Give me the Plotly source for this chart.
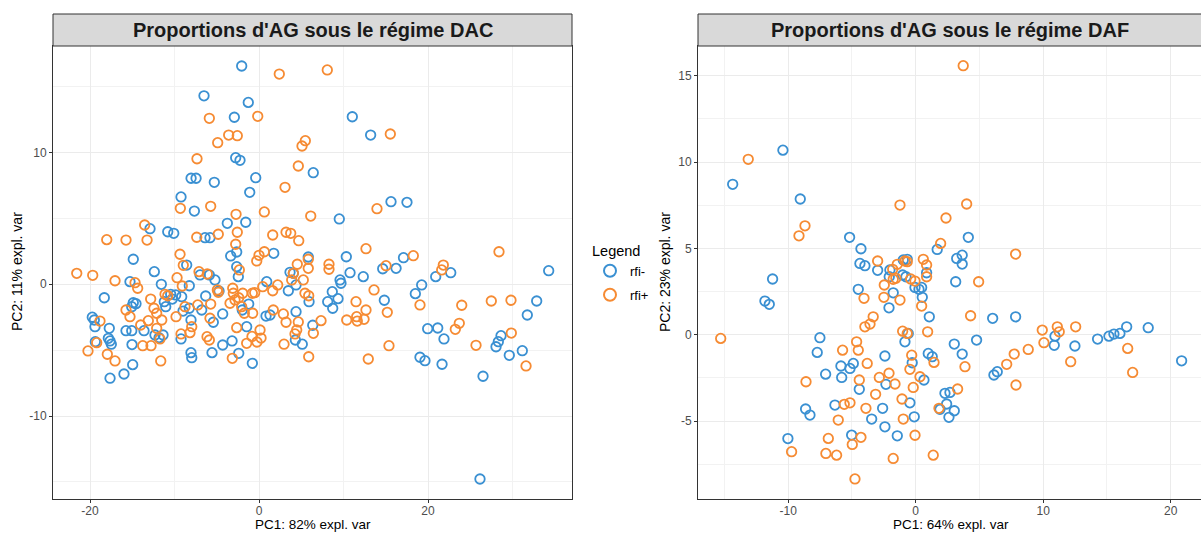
import plotly.graph_objects as go

# ---- PCA scores, DAC regime ----
dac_neg_pc1 = [-2.05, -6.51, -1.27, -2.92, -2.76, -2.25, -8.04, -7.45, -5.29, -0.39, -1.10, -9.23, -7.65, -3.75,
               -1.57, -12.90, -10.80, -10.09, -6.39, -5.80, -3.35, -2.64, 1.74, -14.88, -8.56, -12.39, -2.64, 3.67,
               4.06, 11.04, 13.21, 6.42, 15.62, 17.51, 9.50, 10.33, 17.10, 16.22, 14.64, 10.77, 5.83, 34.28, 20.91,
               22.69, 12.34, 9.59, 3.47, 4.38, 9.70, 8.67, 8.13, 9.35, 8.72, 5.92, 4.38, 6.36, 4.30, 5.12, 14.83,
               19.25, 18.50, 19.96, 21.15, 21.89, 19.05, 19.64, 21.66, 32.86, 31.75, 28.64, 28.32, 28.05, 31.16,
               29.62, 26.51, 26.15, -15.27, -11.56, -18.31, -8.25, -6.98, -5.88, -5.21, -10.45, -9.86, -9.15, -11.21,
               -11.04, -6.31, -8.25, -8.99, -14.88, -14.56, -15.06, -19.73, -19.49, -19.41, -17.72, -17.83, -17.63,
               -17.48, -19.37, -15.74, -15.06, -13.61, -15.03, -12.31, -11.83, -11.36, -9.23, -8.05, -5.41, -4.30,
               -3.19, -4.30, -5.56, -2.40, -8.05, -7.96, -14.95, -15.98, -17.63, -0.79, -1.46, -1.22, -1.98, 0.83,
               1.30, 0.91, -2.45, -6.78, -10.26, -4.73]
dac_neg_pc2 = [16.57, 14.31, 13.81, 12.68, 9.61, 9.41, 8.05, 8.05, 7.74, 8.09, 6.98, 6.63, 5.56, 4.63,
               4.71, 4.22, 3.99, 3.87, 3.54, 3.54, 2.15, 2.45, 2.35, 1.90, 1.46, 0.96, 1.34, 0.91,
               0.83, 12.72, 11.33, 8.47, 6.27, 6.22, 4.96, 2.09, 2.02, 1.21, 1.18, 0.88, 2.07, 1.03, 0.58,
               0.88, 0.58, 0.33, -0.49, -0.05, 0.08, -0.56, -1.32, -1.09, -1.82, -1.32, -2.08, -3.11, -4.23, -4.55, -1.21,
               -0.05, -0.71, -3.37, -3.32, -4.15, -5.54, -5.80, -6.07, -1.27, -2.33, -3.90, -4.36, -4.74, -5.04,
               -5.39, -6.98, -14.78, 0.20, 0.00, -1.02, -0.11, 0.71, 0.71, 0.33, -0.76, -0.81, -0.94, -1.32,
               -1.70, -0.89, -1.82, -2.03, -1.40, -1.47, -1.70, -2.50, -2.71, -3.22, -3.34, -4.10, -4.30,
               -4.55, -4.36, -3.52, -3.52, -3.52, -4.58, -3.85, -4.05, -3.85, -4.15, -2.71, -2.88, -2.25,
               -4.30, -4.61, -5.19, -5.24, -5.19, -5.57, -6.10, -6.81, -7.13, -6.00, -3.22, -1.50, -1.95, -2.41,
               -2.33, 0.20, 0.58, -1.95, -1.12, -0.51]

dac_pos_pc1 = [2.40, 8.08, -5.88, -0.15, -3.59, -2.57, -4.89, -7.34, 4.65, 3.08, -9.31, -5.72, -2.72, 0.63,
               -13.53, -2.57, -4.82, -7.37, 1.62, 3.20, 3.75, -18.02, -15.74, -13.25, -2.76, -9.35, 0.00, 0.63,
               -0.27, -8.96, -21.57, -19.68, -7.10, -6.12, -2.33, 4.53, 4.06, 15.54, 5.48, 5.09, 6.12, 13.96,
               4.70, 12.66, 18.26, 28.40, 5.83, 8.28, 8.28, 5.83, 15.03, 21.81, 21.62, 3.87, 5.24, 5.44, 5.88,
               13.61, 11.48, 12.66, 11.56, 11.63, 12.43, 10.38, 7.34, 15.18, 2.88, 3.20, 4.65, 4.26, 6.43, 2.96,
               5.88, 12.93, 15.38, 19.05, 23.99, 23.70, 23.23, 25.68, 27.49, 29.82, 29.86, 31.60, -17.04, -14.67,
               -14.36, -11.12, -10.80, -12.82, -9.70, -9.08, -4.93, -4.82, -3.11, -3.04, -3.43, -2.84, -2.40,
               -1.93, -0.79, -0.51, 0.44, 1.62, 2.21, -7.25, -5.72, -5.80, -9.82, -12.43, -12.11, -11.51, -12.11,
               -15.74, -15.27, -18.82, -13.10, -14.00, -7.96, -9.23, -6.15, -5.88, -2.64, -1.74, -0.75, 0.12,
               -0.83, -0.24, -1.46, 0.24, 1.69, 4.46, -20.24, -19.21, -17.95, -17.04, -13.76, -12.78, -11.72,
               -11.63, -3.16, -2.05, -8.76, -8.17]
dac_pos_pc2 = [15.96, 16.27, 12.60, 12.75, 11.33, 11.28, 10.75, 9.53, 8.98, 7.36, 5.77, 5.92, 5.31, 5.49,
               4.50, 3.95, 3.80, 3.57, 3.74, 3.95, 3.87, 3.39, 3.36, 3.36, 3.04, 2.28, 2.20, 2.47,
               1.77, 1.44, 0.83, 0.68, 0.96, 0.78, 1.09, 1.52, 0.83, 11.41, 10.90, 10.50, 5.18, 5.74,
               3.31, 2.70, 2.17, 2.47, 1.90, 1.52, 1.14, 1.21, 1.41, 1.46, 1.09, 0.33, 0.33, -0.68, -0.87,
               -0.43, -1.32, -1.95, -2.46, -2.79, -2.66, -2.71, -2.76, -2.13, -2.25, -2.88, -2.86, -3.77, -3.72, -4.55,
               -5.50, -5.67, -4.66, -1.57, -1.59, -2.96, -3.42, -4.63, -1.27, -1.21, -3.70, -6.20, 0.27, 0.12,
               -0.30, -0.76, -0.87, -1.12, 0.50, -0.13, -0.43, -0.61, -0.30, -0.68, -1.44, -1.19, -1.02,
               -0.68, -0.68, -0.64, -0.18, -0.49, -0.05, -1.57, -1.50, -2.58, -2.46, -1.82, -2.20, -2.71, -3.34,
               -1.95, -2.46, -2.79, -2.76, -3.09, -3.22, -3.77, -3.98, -4.23, -3.29, -2.20, -2.20, -3.47,
               -3.96, -4.38, -4.48, -4.08, -1.95, -3.47, -5.06, -4.43, -5.31, -5.82, -4.66, -4.66, -4.15,
               -5.82, -5.62, -1.70, -1.70, -3.67]

# ---- PCA scores, DAF regime ----
daf_neg_pc1 = [-14.35, -10.41, -9.05, -5.18, -4.29, -4.37, -3.98, -2.98, -11.22, -11.82, -11.48, -0.97, -0.66,
               0.86, 1.69, 4.13, 3.22, 3.65, 3.65, 3.14, -2.02, -2.07, -1.02, -0.76, -0.05, 0.26, 0.47, 0.52,
               -1.76, -4.50, -2.09, 1.07, 6.04, 7.84, -0.84, -0.58, -7.51, -7.72, 3.03, 4.78, 3.65, 6.14, 6.40,
               -2.41, -0.27, 0.99, 1.30, -4.89, -5.15, -5.86, -5.80, -7.06, -4.42, -2.33, 0.65, -0.45, 2.30,
               2.69, 2.43, 3.03, 1.91, 2.61, -6.33, -8.63, -8.29, -2.59, -3.45, -2.41, -0.11, -5.02, -1.44,
               -10.02, 10.93, 10.87, 12.49, 14.27, 15.16, 15.55, 16.02, 16.55, 18.24, 20.86]
daf_neg_pc2 = [8.71, 10.69, 7.86, 5.64, 4.98, 4.13, 4.00, 3.73, 3.23, 1.95, 1.76, 4.33, 4.37,
               3.59, 4.94, 5.64, 4.42, 4.61, 4.09, 3.07, 3.75, 3.36, 3.46, 3.36, 2.74, 2.63, 2.74, 2.17,
               2.43, 2.63, 1.56, 1.04, 0.95, 1.04, -0.41, 0.08, -0.17, -1.02, -0.54, -0.31, -1.12, -2.33, -2.14,
               -1.23, -1.62, -1.08, -1.27, -1.66, -1.95, -1.81, -2.47, -2.28, -3.16, -2.87, -2.62, -3.94, -3.39,
               -3.34, -4.01, -4.40, -4.32, -4.78, -4.07, -4.30, -4.65, -4.26, -4.88, -5.33, -4.75, -5.81, -5.85,
               -6.01, -0.08, -0.61, -0.65, -0.25, -0.08, 0.04, 0.08, 0.46, 0.41, -1.51]

daf_pos_pc1 = [3.73, -13.13, -1.23, 4.00, 2.38, -9.15, -8.68, 1.96, 7.84, -2.98, -0.84, -0.66, -1.44, -1.80,
               0.60, 0.86, 0.86, 4.94, -1.76, -1.55, -0.39, -0.05, -2.46, -2.49, -1.23, -4.05, 0.47, 4.31,
               -3.33, -3.58, -3.98, -1.02, -0.66, 0.94, -15.29, -4.63, -4.50, -5.73, 3.87, -0.31, -0.45, 1.44,
               -3.80, -8.60, -4.42, -2.85, -2.09, -1.62, 0.34, -0.19, -3.14, -1.07, 3.29, 1.83, -5.60, -5.15,
               -3.90, -6.07, -0.97, -4.29, -4.97, -0.05, -6.85, -7.04, -6.20, -9.73, -1.76, 1.38, -4.76, 7.14,
               7.73, 8.83, 7.87, 9.93, 10.06, 11.11, 11.26, 12.55, 12.16, 16.63, 17.02]
daf_pos_pc2 = [15.58, 10.16, 7.51, 7.57, 6.76, 5.73, 6.31, 5.29, 4.67, 4.27, 4.27, 4.23, 4.08, 3.79,
               4.37, 4.04, 3.36, 3.07, 3.21, 3.27, 3.23, 3.11, 2.88, 2.17, 2.01, 2.11, 1.66, 1.10,
               1.04, 0.62, 0.46, 0.21, 0.08, 0.17, -0.21, -0.41, -0.89, -0.89, -1.85, -1.18, -2.00, -1.60,
               -1.66, -2.72, -2.62, -2.47, -2.23, -2.85, -2.43, -3.05, -3.45, -3.72, -3.14, -4.26, -4.03, -3.94,
               -4.26, -4.94, -4.88, -5.94, -6.35, -5.82, -6.00, -6.87, -6.97, -6.77, -7.16, -6.97, -8.35, -1.71,
               -1.12, -0.85, -2.91, 0.27, -0.46, 0.46, 0.17, 0.46, -1.56, -0.79, -2.18]

groups = ["rfi-", "rfi+"]
group_colors = {"rfi-": "#3A90D2", "rfi+": "#F68B33"}

panel_titles = ["Proportions d'AG sous le régime DAC", "Proportions d'AG sous le régime DAF"]
x_titles = ["PC1: 82% expl. var", "PC1: 64% expl. var"]
y_titles = ["PC2: 11% expl. var", "PC2: 23% expl. var"]

dac_x_ticks = [-20, 0, 20]
dac_y_ticks = [-10, 0, 10]
daf_x_ticks = [-10, 0, 10, 20]
daf_y_ticks = [-5, 0, 5, 10, 15]

W, H = 1201, 533
FONT = "Liberation Sans, Arial, Helvetica, sans-serif"


def px_x(p):
    return p / W


def px_y(p):
    return 1 - p / H


fig = go.Figure()

panels = [
    ("x", "y", {"rfi-": (dac_neg_pc1, dac_neg_pc2), "rfi+": (dac_pos_pc1, dac_pos_pc2)}, True),
    ("x2", "y2", {"rfi-": (daf_neg_pc1, daf_neg_pc2), "rfi+": (daf_pos_pc1, daf_pos_pc2)}, False),
]
for xa, ya, data, show in panels:
    for g in groups:
        xs, ys = data[g]
        fig.add_trace(go.Scatter(
            x=xs, y=ys, mode="markers", name=g, legendgroup=g, showlegend=show,
            xaxis=xa, yaxis=ya,
            marker=dict(symbol="circle-open", size=9.5, color=group_colors[g],
                        line=dict(width=1.8, color=group_colors[g])),
        ))


def tick_text(vals):
    # plain hyphen-minus for negative labels
    return [str(v) for v in vals]


axis_common = dict(
    showgrid=True, gridcolor="#EBEBEB", gridwidth=1.1, zeroline=False,
    showline=True, linecolor="#333333", linewidth=1,
    ticks="outside", ticklen=3, tickwidth=1, tickcolor="#333333",
    tickfont=dict(family=FONT, size=12, color="#4D4D4D"),
    tickmode="array",
)


def minor(vals):
    return dict(tickmode="array", tickvals=vals, showgrid=True, gridcolor="#F2F2F2", gridwidth=0.7, ticks="")


ydom = [px_y(499), px_y(46)]
fig.update_layout(
    width=W, height=H,
    margin=dict(l=0, r=0, t=0, b=0),
    paper_bgcolor="white", plot_bgcolor="white",
    font=dict(family=FONT, color="#000000"),
    xaxis=dict(axis_common, domain=[px_x(53), px_x(572)], range=[-24.38, 37.04], anchor="y", mirror=True,
               ticklabelstandoff=-2,
               tickvals=dac_x_ticks, ticktext=tick_text(dac_x_ticks), minor=minor([-10, 10, 30])),
    yaxis=dict(axis_common, domain=ydom, range=[-16.30, 18.09], anchor="x", mirror=True,
               tickvals=dac_y_ticks, ticktext=tick_text(dac_y_ticks), minor=minor([-15, -5, 5, 15])),
    xaxis2=dict(axis_common, domain=[px_x(698), 1.0], range=[-17.07, 22.38], anchor="y2", mirror=True,
                ticklabelstandoff=-2,
                tickvals=daf_x_ticks, ticktext=tick_text(daf_x_ticks), minor=minor([-15, -5, 5, 15])),
    yaxis2=dict(axis_common, domain=ydom, range=[-9.51, 16.72], anchor="x2", mirror=False,
                tickvals=daf_y_ticks, ticktext=tick_text(daf_y_ticks),
                minor=minor([-7.5, -2.5, 2.5, 7.5, 12.5])),
    legend=dict(
        x=px_x(590), xanchor="left", y=px_y(237), yanchor="top",
        bgcolor="rgba(0,0,0,0)", borderwidth=0,
        title=dict(text="Legend", font=dict(family=FONT, size=14.5, color="#000000")),
        font=dict(family=FONT, size=13, color="#000000"),
        itemsizing="constant", traceorder="grouped", tracegroupgap=4,
    ),
)

# facet strips with titles
strips = [(53, 572, panel_titles[0], 312.5), (698, 1210, panel_titles[1], 949.5)]
for x0, x1, title, cx in strips:
    fig.add_shape(type="rect", xref="paper", yref="paper",
                  x0=px_x(x0), x1=px_x(x1), y0=px_y(46), y1=px_y(14),
                  fillcolor="#D9D9D9", line=dict(color="#333333", width=1), layer="above")
    fig.add_annotation(text=f"<b>{title}</b>", xref="paper", yref="paper",
                       x=px_x(cx), y=px_y(30), xanchor="center", yanchor="middle", showarrow=False,
                       font=dict(family=FONT, size=20, color="#1A1A1A"))

# axis titles
for cx, t in zip([312.5, 951], x_titles):
    fig.add_annotation(text=t, xref="paper", yref="paper", x=px_x(cx), y=px_y(524),
                       xanchor="center", yanchor="middle", showarrow=False,
                       font=dict(family=FONT, size=13.5, color="#000000"))
for cx, t in zip([17, 665], y_titles):
    fig.add_annotation(text=t, xref="paper", yref="paper", x=px_x(cx), y=px_y(272),
                       xanchor="center", yanchor="middle", showarrow=False, textangle=-90,
                       font=dict(family=FONT, size=14, color="#000000"))

fig.write_html("out.html")
